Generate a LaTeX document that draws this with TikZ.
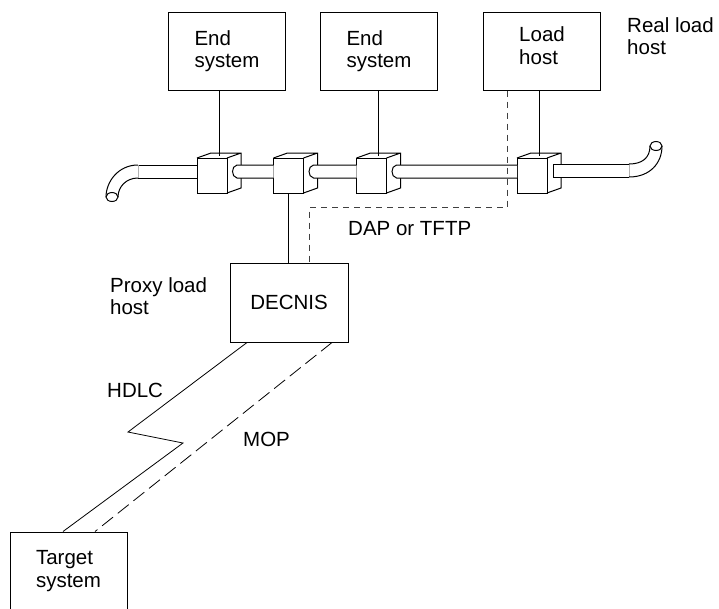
\documentclass[tikz,border=0pt]{standalone}
\usepackage{fontspec}
\setmainfont{Liberation Sans}
\usepackage{tikz}
\usetikzlibrary{positioning}
\definecolor{darkgray}{HTML}{404040}
\begin{document}
\begin{tikzpicture}[
  x=1pt, y=-1pt,
  every node/.style={font=\fontsize{20.5}{22.5}\selectfont},
  sys/.style={draw, line width=1pt, align=left, inner sep=0pt,
              minimum width=117pt, minimum height=78pt},
  cube/.style={draw, line width=1pt, fill=white, inner sep=0pt, outer sep=0pt,
               minimum width=30pt, minimum height=35pt},
  lbl/.style={align=left, inner sep=0pt},
  link/.style={line width=0.8pt},
  dap/.style={line width=0.8pt, draw=darkgray, dash pattern=on 6pt off 5pt},
  mop/.style={line width=0.8pt, dash pattern=on 14pt off 6pt},
  cable/.style={draw, fill=white, line width=1pt},
  joint/.style={draw=gray!60, line width=0.6pt}
]
  \useasboundingbox (0,0) rectangle (719,608);

  \node[sys] (es1) at (227,51) {End\\system};
  \node[sys, right=34pt of es1] (es2) {End\\system};
  \node[sys, right=45pt of es2] (lhost) {Load\\host\\[-12pt]\mbox{}};
  \node[lbl, anchor=north west] (reallbl) at (627,17) {Real load\\host};

  \node[sys, minimum width=118pt, minimum height=79pt] (decnis) at (289,302.5) {DECNIS};
  \node[lbl, anchor=north west] (proxylbl) at (110,277) {Proxy load\\host};
  \node[lbl, anchor=west] (daplbl) at (348,229) {DAP or TFTP};

  \node[sys] (target) at (68.5,571) {Target\\system};
  \node[lbl, anchor=west] (hdlclbl) at (107,390.5) {HDLC};
  \node[lbl, anchor=west] (moplbl) at (243,439.5) {MOP};

  % transceivers
  \foreach \n/\x in {1/212,2/288.5,3/371.5,4/532}{
    \node[cube] (c\n) at (\x,175.5) {};
    \draw[line width=1pt] (c\n.north west) -- ++(14,-5) -- ++(30,0) -- ++(0,35) -- (c\n.south east)
      (c\n.north east) -- ++(14,-5);
    \path (c\n.north) ++(7,-2.5) coordinate (t\n);
  }

  % cable
  \foreach \a/\b in {1/2,2/3,3/4}{
    \path[cable] ([yshift=10.5pt]c\b.west) -- ([xshift=10pt,yshift=10.5pt]c\a.east)
      .. controls +(-6,1) and +(-6,-1) .. ([xshift=10pt,yshift=-2.5pt]c\a.east)
      -- ([yshift=-2.5pt]c\b.west);
  }
  \draw[line width=1pt] (138,165) -- ([yshift=10.5pt]c1.west)
    (138,178) -- ([yshift=-2.5pt]c1.west);
  \draw[joint] (138,165) -- (138,178);
  \draw[line width=1pt] (138,165) .. controls (118,165) and (106,182) .. (106,197)
    (138,178) .. controls (126,178) and (118,187) .. (118,197);
  \draw[line width=1pt] (112,197) ellipse [x radius=6, y radius=4.5];

  \path[cable] (629,164) -- ([xshift=6pt,yshift=11.5pt]c4.east)
    -- ([xshift=6pt,yshift=-1.5pt]c4.east) -- (629,177);
  \draw[joint] (629,164) -- (629,177);
  \draw[line width=1pt] (629,164) .. controls (642,164) and (650,158) .. (650,146)
    (629,177) .. controls (650,177) and (662,163) .. (662,146);
  \draw[line width=1pt] (656,146) ellipse [x radius=6, y radius=4.5];

  % connectors
  \draw[link] (es1.south -| t1) -- (t1);
  \draw[link] (es2.south -| t3) -- (t3);
  \draw[link] (lhost.south -| t4) -- (t4);
  \draw[link] (c2.south) -- (decnis.north -| c2.south);

  \coordinate (d1) at (507,207);
  \coordinate (d2) at (309,207);
  \draw[dap] (lhost.south -| d1) -- (d1) -- (d2) -- (d2 |- decnis.north);

  \coordinate (z1) at (128,432);
  \coordinate (z2) at (183,443);
  \draw[link] ([xshift=-42pt]decnis.south) -- (z1) -- (z2) -- ([xshift=-5.5pt]target.north);
  \draw[mop] ([xshift=43pt]decnis.south) -- ([xshift=26.5pt]target.north);
\end{tikzpicture}
\end{document}
